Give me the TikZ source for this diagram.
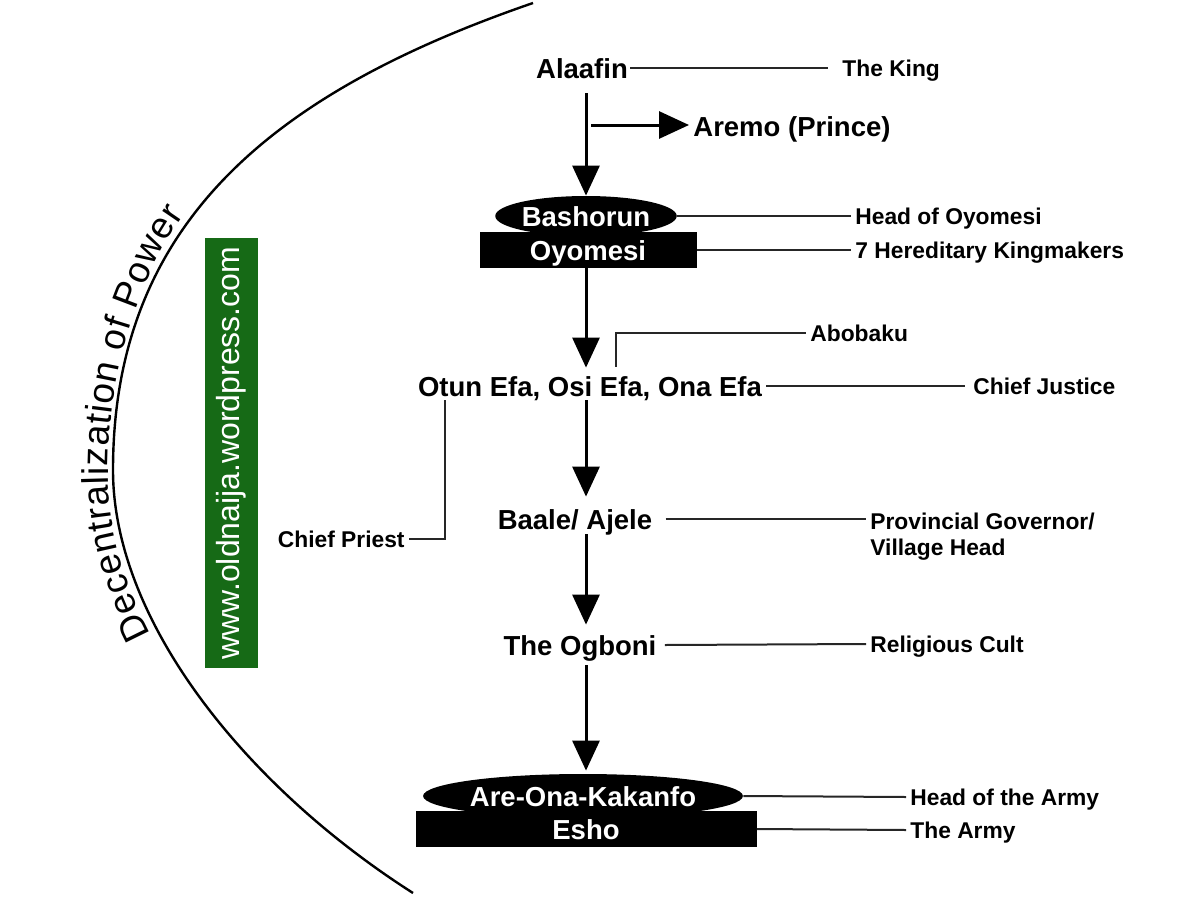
\documentclass[tikz,border=0pt]{standalone}
\usepackage{fontspec}
\setmainfont{Liberation Sans}
\usetikzlibrary{shapes.geometric,arrows.meta,decorations.text}
\definecolor{sitegreen}{RGB}{22,106,22}

\begin{document}
\begin{tikzpicture}[x=0.5pt, y=-0.5pt,
    rank/.style = {font=\bfseries\fontsize{13.75}{16}\selectfont, inner sep=0pt, text height=10pt, text depth=0pt},
    role/.style = {font=\bfseries\fontsize{11.4}{13}\selectfont, inner sep=2pt, text height=8.2pt, text depth=0pt, anchor=west},
    rolelines/.style = {font=\bfseries\fontsize{11.4}{13}\selectfont, inner sep=2pt, anchor=north west, align=left},
    blackoval/.style = {ellipse, fill=black, text=white, rank},
    blackbar/.style = {rectangle, fill=black, text=white, rank, minimum height=18pt},
    down/.style = {-{Triangle[width=13.5pt,length=15pt]}, line width=1.5pt},
    tie/.style = {line width=1pt, black!85},
    ]
        \useasboundingbox (0,0) rectangle (1200,900);

        % Nodes
        \coordinate (spine) at (586,0);
        \coordinate (fork) at (591,125);
        \node[rank] (alaafin) at (582,68) {Alaafin};
        \node[role] (king) at (838,68) {The King};
        \node[rank, anchor=west, inner sep=2pt] (aremo) at (689,126) {Aremo (Prince)};
        %
        \node[blackoval, minimum width=86pt, minimum height=20pt] (bashorun) at (586,216) {Bashorun};
        \node[blackbar, minimum width=108.5pt] (oyomesi) at (588,250) {Oyomesi};
        \node[role] (headoyo) at (851,216) {Head of Oyomesi};
        \node[role] (kingmakers) at (851,250) {7 Hereditary Kingmakers};
        %
        \node[rank] (efa) at (590,386) {Otun Efa, Osi Efa, Ona Efa};
        \node[role] (abobaku) at (806,333) {Abobaku};
        \node[role] (justice) at (969,386) {Chief Justice};
        \node[role, anchor=east] (priest) at (409,539) {Chief Priest};
        %
        \node[rank] (baale) at (575,519) {Baale/ Ajele};
        \node[rolelines] (governor) at (866,509) {Provincial Governor/\\Village Head};
        \node[rank] (ogboni) at (580,645) {The Ogboni};
        \node[role] (cult) at (866,644) {Religious Cult};
        %
        \node[blackoval, minimum width=140pt, minimum height=22pt] (kakanfo) at (583,796) {Are-Ona-Kakanfo};
        \node[blackbar, minimum width=170.5pt] (esho) at (586,829) {Esho};
        \node[role] (armyhead) at (906,797) {Head of the Army};
        \node[role] (army) at (906,830) {The Army};
        %
        \node[fill=sitegreen, text=white, rotate=90, minimum width=215pt, minimum height=26.5pt, inner sep=0pt,
              font=\fontsize{16}{16}\selectfont] (site) at (231,453) {www.oldnaija.wordpress.com};

        % Draw
        \draw[line width=1.2pt] (533,3) .. controls (277.6,91) and (113,220) .. (113,470)
              .. controls (113,620) and (244.4,785.4) .. (413,893);
        \path[decorate, decoration={text along path, text align={fit to path},
              text={|\fontsize{18.5}{18.5}\selectfont|Decentralization of Power}}]
              (151,634) .. controls (120,575) and (108,525) .. (108,470)
              .. controls (108,390) and (130,290) .. (184,214);
        %
        \draw[down, shorten <=7.5pt] (alaafin.south -| spine) -- (bashorun.north -| spine);
        \draw[down] (fork) -- (fork -| aremo.west);
        \draw[down, shorten >=4pt] (oyomesi.south -| spine) -- (efa.north -| spine);
        \draw[down, shorten <=2pt, shorten >=6pt] (efa.south -| spine) -- (baale.north -| spine);
        \draw[down, shorten <=2.5pt, shorten >=5pt] (baale.south -| spine) -- (ogboni.north -| spine);
        \draw[down, shorten <=5pt, shorten >=1.5pt] (ogboni.south -| spine) -- (kakanfo.north -| spine);
        %
        \draw[tie] ([xshift=1pt]alaafin.east) -- ([xshift=-5pt]king.west);
        \draw[tie] (bashorun.east) -- (headoyo.west);
        \draw[tie] (oyomesi.east) -- (kingmakers.west);
        \draw[tie] ([xshift=13pt, yshift=4.5pt]efa.north) |- (abobaku.west);
        \draw[tie] ([xshift=2pt]efa.east) -- ([xshift=-2pt]justice.west);
        \draw[tie] ([xshift=13.5pt, yshift=-2pt]efa.south west) |- (priest.east);
        \draw[tie] ([xshift=6.5pt]baale.east) -- (baale.east -| governor.west);
        \draw[tie] ([xshift=4pt]ogboni.east) -- (cult.west);
        \draw[tie] (kakanfo.east) -- (armyhead.west);
        \draw[tie] (esho.east) -- (army.west);
\end{tikzpicture}
\end{document}
